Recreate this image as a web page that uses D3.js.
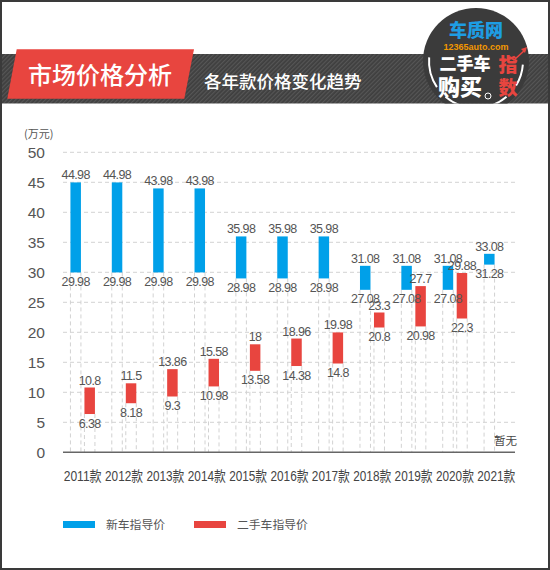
<!DOCTYPE html>
<html><head><meta charset="utf-8">
<script src="https://cdn.jsdelivr.net/npm/d3@7/dist/d3.min.js"></script>
<style>
html,body{margin:0;padding:0;background:#fff;}
svg{display:block;}
text{font-family:"Liberation Sans",Arial,"Noto Sans CJK SC",sans-serif;}
.cjk{font-family:"Noto Sans CJK SC","Liberation Sans",sans-serif;}
</style></head>
<body>
<svg id="c" width="550" height="570"></svg>
<script>
// ---- data ----
const years = ["2011款","2012款","2013款","2014款","2015款","2016款","2017款","2018款","2019款","2020款","2021款"];
const newLow  = [29.98,29.98,29.98,29.98,28.98,28.98,28.98,27.08,27.08,27.08,31.28];
const newHigh = [44.98,44.98,43.98,43.98,35.98,35.98,35.98,31.08,31.08,31.08,33.08];
const usedLow  = [6.38,8.18,9.3,10.98,13.58,14.38,14.8,20.8,20.98,22.3,null];
const usedHigh = [10.8,11.5,13.86,15.58,18,18.96,19.98,23.3,27.7,29.88,null];
const yTicks = [0,5,10,15,20,25,30,35,40,45,50];
const seriesNames = ["新车指导价","二手车指导价"];
const colors = ["#00A0E9","#E8453F"];

const svg = d3.select("#c");
const defs = svg.append("defs");
const pat = defs.append("pattern").attr("id","stripe").attr("patternUnits","userSpaceOnUse")
  .attr("width",3).attr("height",3).attr("patternTransform","rotate(45)");
pat.append("rect").attr("width",3).attr("height",3).attr("fill","#3f3f3f");
pat.append("rect").attr("width",1.2).attr("height",3).attr("fill","#565656");

// header band
svg.append("rect").attr("x",2).attr("y",54).attr("width",546).attr("height",49.5).attr("fill","url(#stripe)");
svg.append("polygon").attr("points","16.7,49.3 194,49.3 184.3,98.7 7.3,98.7").attr("fill","#E8453F");
svg.append("text").attr("class","cjk").attr("x",100).attr("y",75).attr("dy","0.36em")
  .attr("text-anchor","middle").attr("fill","#fff").attr("font-size",24).attr("font-weight",500)
  .text("市场价格分析");
svg.append("text").attr("class","cjk").attr("x",204).attr("y",82).attr("dy","0.36em")
  .attr("fill","#fff").attr("font-size",17.5).attr("font-weight",500)
  .text("各年款价格变化趋势");

// logo
defs.append("clipPath").attr("id","lc").append("rect").attr("x",400).attr("y",0).attr("width",150).attr("height",103.5);
const lg = svg.append("g").attr("clip-path","url(#lc)");
lg.append("circle").attr("cx",476).attr("cy",61).attr("r",53).attr("fill","#3b3b3b");
const arc = d3.arc().innerRadius(46).outerRadius(48);
[[-2.75,-1.9],[-3.9,-3.1],[2.1,2.7],[3.1,3.9]].forEach(a=>{
  lg.append("path").attr("transform","translate(476,61)").attr("fill","#fff")
    .attr("d",arc({startAngle:a[0]*Math.PI/4, endAngle:a[1]*Math.PI/4}));
});
lg.append("text").attr("class","cjk").attr("x",476).attr("y",31).attr("dy","0.36em").attr("text-anchor","middle")
  .attr("fill","#1E9DE3").attr("font-size",18).attr("font-weight",900).text("车质网");
lg.append("text").attr("x",476).attr("y",46.5).attr("dy","0.36em").attr("text-anchor","middle")
  .attr("fill","#F39800").attr("font-size",9).attr("font-weight",700).text("12365auto.com");
lg.append("text").attr("class","cjk").attr("x",465).attr("y",64).attr("dy","0.36em").attr("text-anchor","middle")
  .attr("fill","#fff").attr("font-size",17).attr("font-weight",900).text("二手车");
lg.append("text").attr("class","cjk").attr("x",460).attr("y",87).attr("dy","0.36em").attr("text-anchor","middle")
  .attr("fill","#fff").attr("font-size",22).attr("font-weight",900).text("购买");
lg.append("text").attr("class","cjk").attr("x",508).attr("y",65).attr("dy","0.36em").attr("text-anchor","middle")
  .attr("fill","#E8453F").attr("font-size",19).attr("font-weight",900).text("指");
lg.append("text").attr("class","cjk").attr("x",508).attr("y",88).attr("dy","0.36em").attr("text-anchor","middle")
  .attr("fill","#E8453F").attr("font-size",19).attr("font-weight",900).text("数");
lg.append("path").attr("d","M503,63 L510,57 L514,60 L525,50").attr("fill","none").attr("stroke","#E8453F").attr("stroke-width",1.6);
lg.append("path").attr("d","M527,47 L521,49 L525,53 Z").attr("fill","#E8453F");
lg.append("circle").attr("cx",488).attr("cy",96).attr("r",3).attr("fill","none").attr("stroke","#fff").attr("stroke-width",1);

// scales
const x = d3.scaleBand().domain(years).range([62,517]).paddingInner(0).paddingOuter(0);
const y = d3.scaleLinear().domain([0,50]).range([452.3,152.3]);
const bw = 10.5, gap = 3.5;
const cx = d => x(d)+x.bandwidth()/2;

// grid
const gy = svg.append("g");
gy.selectAll("line").data(yTicks.filter(t=>t>0)).join("line")
  .attr("x1",63).attr("x2",515).attr("y1",d=>y(d)).attr("y2",d=>y(d))
  .attr("stroke","#d2d2d2").attr("stroke-width",1).attr("stroke-dasharray","4,3");

// drop lines
const drops = [];
years.forEach((yr,i)=>{
  const b0 = cx(yr)-gap/2-bw, r0 = cx(yr)+gap/2;
  drops.push({x:b0, v:newLow[i]},{x:b0+bw, v:newLow[i]});
  if(usedLow[i]!=null){ drops.push({x:r0, v:usedLow[i]},{x:r0+bw, v:usedLow[i]}); }
});
svg.append("g").selectAll("line").data(drops).join("line")
  .attr("x1",d=>d.x).attr("x2",d=>d.x).attr("y1",d=>y(d.v)).attr("y2",y(0))
  .attr("stroke","#d2d2d2").attr("stroke-width",1).attr("stroke-dasharray","4,3");

// y axis labels
const yAxis = d3.axisLeft(y).tickValues(yTicks).tickSize(0).tickPadding(0);
const ya = svg.append("g").attr("transform","translate(45,0)").call(yAxis);
ya.select(".domain").remove();
ya.selectAll("text").attr("font-size",15.5).attr("fill","#555").attr("font-family","Liberation Sans, Arial, sans-serif");
svg.append("text").attr("class","cjk").attr("x",24).attr("y",134).attr("dy","0.36em")
  .attr("font-size",11).attr("fill","#555").text("(万元)");

// baseline
svg.append("line").attr("x1",63).attr("x2",515).attr("y1",y(0)).attr("y2",y(0)).attr("stroke","#666").attr("stroke-width",1.5);

// x axis
const xAxis = d3.axisBottom(x).tickSize(0).tickPadding(0);
const xa = svg.append("g").attr("transform","translate(0,476)").call(xAxis);
xa.select(".domain").remove();
xa.selectAll("text").attr("dy","0.36em").attr("font-size",14).attr("fill","#444")
  .attr("textLength",38).attr("lengthAdjust","spacingAndGlyphs");

// bars
const newData = years.map((yr,i)=>({yr, lo:newLow[i], hi:newHigh[i]}));
const usedData = years.map((yr,i)=>({yr, lo:usedLow[i], hi:usedHigh[i]})).filter(d=>d.lo!=null);
const barG = svg.append("g");
const labG = svg.append("g");
function drawSeries(data, xoff, color){
  barG.append("g").selectAll("rect").data(data).join("rect")
    .attr("x",d=>cx(d.yr)+xoff).attr("width",bw)
    .attr("y",d=>y(d.hi)).attr("height",d=>y(d.lo)-y(d.hi)).attr("fill",color);
  const g = labG.append("g");
  g.selectAll("text.hi").data(data).join("text").attr("class","hi")
    .attr("x",d=>cx(d.yr)+xoff+bw/2).attr("y",d=>y(d.hi)-3)
    .attr("text-anchor","middle").attr("font-size",12.5).attr("fill","#555").attr("letter-spacing",-0.6)
    .text(d=>String(d.hi));
  g.selectAll("text.lo").data(data).join("text").attr("class","lo")
    .attr("x",d=>cx(d.yr)+xoff+bw/2).attr("y",d=>y(d.lo)+13.5)
    .attr("text-anchor","middle").attr("font-size",12.5).attr("fill","#555").attr("letter-spacing",-0.6)
    .text(d=>String(d.lo));
}
drawSeries(newData, -gap/2-bw, colors[0]);
drawSeries(usedData, gap/2, colors[1]);

// 暂无
svg.append("text").attr("class","cjk").attr("x",517).attr("y",441).attr("dy","0.36em")
  .attr("text-anchor","end").attr("font-size",11.5).attr("fill","#444").text("暂无");

// legend
const legX = [63,194];
const lgd = svg.append("g");
seriesNames.forEach((n,i)=>{
  lgd.append("rect").attr("x",legX[i]).attr("y",521).attr("width",32).attr("height",7).attr("fill",colors[i]);
  lgd.append("text").attr("class","cjk").attr("x",legX[i]+43).attr("y",525).attr("dy","0.36em")
    .attr("font-size",11.8).attr("fill","#555").text(n);
});

// border
svg.append("rect").attr("x",1).attr("y",1).attr("width",548).attr("height",568)
  .attr("fill","none").attr("stroke","#3a3a3a").attr("stroke-width",2);
</script>
</body></html>
